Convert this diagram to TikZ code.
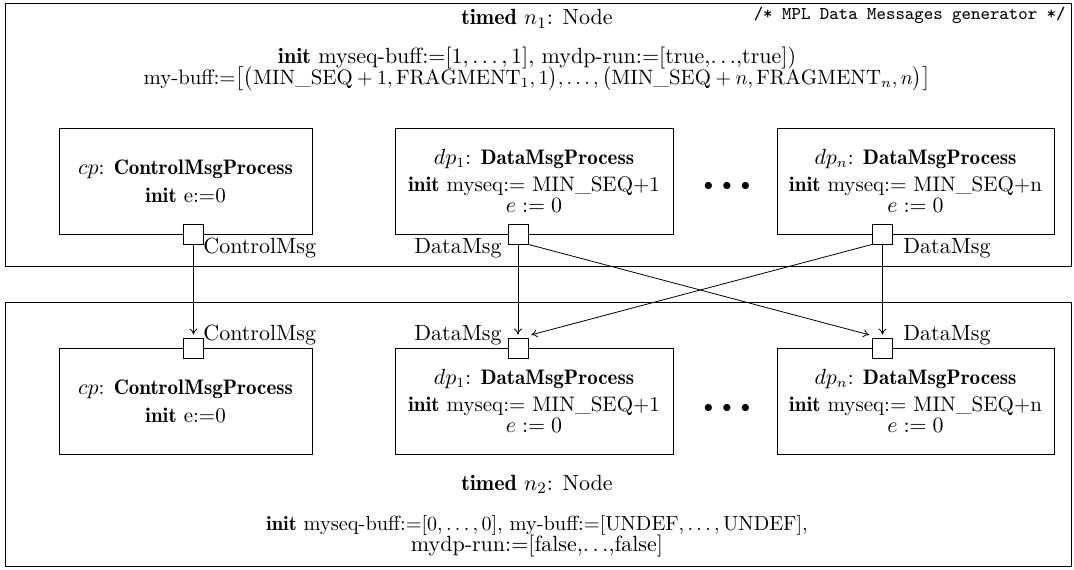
\documentclass[tikz,border=0pt]{standalone}
\usepackage{fontspec}
\setmainfont{lmroman10-regular.otf}[BoldFont=lmromandemi10-regular.otf,ItalicFont=lmroman10-italic.otf,BoldItalicFont=lmromandemi10-oblique.otf]
\usetikzlibrary{arrows.meta}
\begin{document}
\begin{tikzpicture}[x=0.5pt,y=-0.5pt,
  font=\fontsize{11}{13}\selectfont,
  frame/.style={draw,thin,inner sep=0pt,minimum width=533pt},
  procbox/.style={draw,thin,inner sep=0pt,minimum height=53pt},
  boxtext/.style={inner sep=0pt,align=center,font=\fontsize{10.5}{12.5}\selectfont},
  port/.style={draw,thin,fill=white,inner sep=0pt,minimum size=10pt},
  txt/.style={inner sep=0pt,align=center},
  lbl/.style={inner sep=0pt},
  flow/.style={-{To[length=3pt,width=4pt]},thin,shorten >=1.5pt}]
\useasboundingbox (0,0) rectangle (1074,569);
% outer frames
\node[frame,minimum height=131.5pt] (n1) at (538,134.5) {};
\node[frame,minimum height=132pt] (n2) at (538,434) {};
\node[txt,anchor=north east,font=\small\ttfamily] (cmt) at (1066,7) {/* MPL Data Messages generator */};
\node[txt] (t1) at (537,19) {\textbf{timed} $n_1$: Node};
\node[txt] (i1) at (537,58) {\textbf{init} myseq-buff:=$[1,\ldots,1]$, mydp-run:=[true,$\ldots$,true])};
\node[txt,font=\fontsize{10.4}{12}\selectfont] (b1) at (537,79) {my-buff:=$\big[\big(\mathrm{MIN\_SEQ}+1,\mathrm{FRAGMENT}_1,1\big),\ldots,\big(\mathrm{MIN\_SEQ}+n,\mathrm{FRAGMENT}_n,n\big)\big]$};
\node[txt] (t2) at (537,484) {\textbf{timed} $n_2$: Node};
\node[txt,font=\fontsize{10.2}{12}\selectfont] (i2) at (537,525) {\textbf{init} myseq-buff:=$[0,\ldots,0]$, my-buff:=$[\mathrm{UNDEF},\ldots,\mathrm{UNDEF}]$,};
\node[txt] (r2) at (537,546) {mydp-run:=[false,$\ldots$,false]};
% top process boxes
\node[procbox,minimum width=126.5pt] (cpt) at (185.5,181) {};
\node[procbox,minimum width=139pt] (dp1t) at (534,181) {};
\node[procbox,minimum width=138.5pt] (dpnt) at (915.5,181) {};
\node[boxtext] at (cpt) {$cp$: \textbf{ControlMsgProcess}\\[1.5pt] \textbf{init} e:=0};
\node[boxtext] at (dp1t) {$dp_1$: \textbf{DataMsgProcess}\\[1pt] \textbf{init} myseq:= MIN\_SEQ+1\\[-2pt] $e := 0$};
\node[boxtext] at (dpnt) {$dp_n$: \textbf{DataMsgProcess}\\[1pt] \textbf{init} myseq:= MIN\_SEQ+n\\[-2pt] $e := 0$};
\node[txt,font=\fontsize{9}{10}\selectfont] (dots1) at (727,186) {$\bullet\;\bullet\;\bullet$};
% top ports
\node[port] (pcpt) at (193.5,234) {};
\node[port] (pdp1t) at (518,234) {};
\node[port] (pdpnt) at (882.5,234) {};
\node[lbl,anchor=base west] (lcpt) at (203,253) {ControlMsg};
\node[lbl,anchor=base east] (ldp1t) at (502,253) {DataMsg};
\node[lbl,anchor=base west] (ldpnt) at (903,253) {DataMsg};
% bottom process boxes
\node[procbox,minimum width=126.5pt] (cpb) at (185.5,401) {};
\node[procbox,minimum width=139pt] (dp1b) at (534,401) {};
\node[procbox,minimum width=138.5pt] (dpnb) at (915.5,401) {};
\node[boxtext] at (cpb) {$cp$: \textbf{ControlMsgProcess}\\[1.5pt] \textbf{init} e:=0};
\node[boxtext] at (dp1b) {$dp_1$: \textbf{DataMsgProcess}\\[1pt] \textbf{init} myseq:= MIN\_SEQ+1\\[-2pt] $e := 0$};
\node[boxtext] at (dpnb) {$dp_n$: \textbf{DataMsgProcess}\\[1pt] \textbf{init} myseq:= MIN\_SEQ+n\\[-2pt] $e := 0$};
\node[txt,font=\fontsize{9}{10}\selectfont] (dots2) at (727,408) {$\bullet\;\bullet\;\bullet$};
% bottom ports
\node[port] (pcpb) at (193.5,348) {};
\node[port] (pdp1b) at (518,348) {};
\node[port] (pdpnb) at (882.5,348) {};
\node[lbl,anchor=base west] (lcpb) at (203,340) {ControlMsg};
\node[lbl,anchor=base east] (ldp1b) at (502,340) {DataMsg};
\node[lbl,anchor=base west] (ldpnb) at (903,340) {DataMsg};
% connectors
\draw[flow] (pcpt.south) -- (pcpb.north);
\draw[flow] (pdp1t.south) -- (pdp1b.north);
\draw[flow] (pdpnt.south) -- (pdpnb.north);
\draw[flow] (pdp1t.south east) -- ([yshift=1pt]pdpnb.north west);
\draw[flow] (pdpnt.south west) -- ([yshift=1pt]pdp1b.north east);
\end{tikzpicture}
\end{document}
